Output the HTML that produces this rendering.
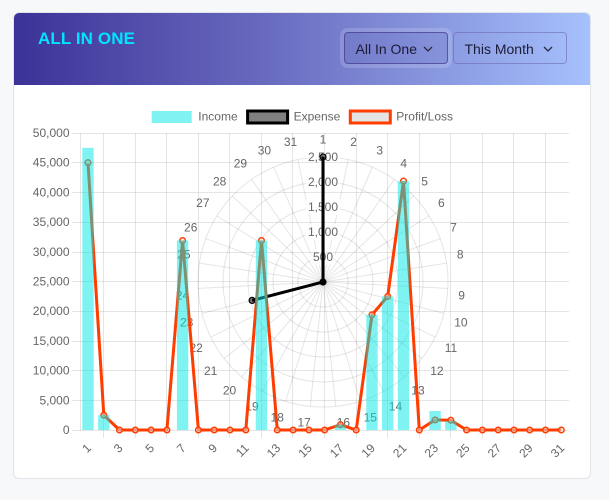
<!DOCTYPE html>
<html>
<head>
<meta charset="utf-8">
<style>
  html,body{margin:0;padding:0;}
  body{width:609px;height:500px;background:#f7f8fa;position:relative;overflow:hidden;font-family:"Liberation Sans",Arial,sans-serif;}
  .card{position:absolute;left:13px;top:12px;width:576px;height:465px;background:#fff;border:1px solid #e1e4e8;border-radius:6px;overflow:hidden;}
  .hdr{position:absolute;left:0;top:0;width:576px;height:72px;background:linear-gradient(90deg,#3c3297 0%,#6a6cc0 45%,#a6c1fd 100%);}
  .title{position:absolute;left:38px;top:29px;font-size:17px;line-height:20px;font-weight:bold;color:#00e5ff;letter-spacing:0.1px;}
  .btn{position:absolute;top:32px;height:30px;border-radius:4px;font-size:14px;line-height:30px;color:#1c1c38;box-sizing:content-box;}
  .b1{left:344px;width:102px;border:1px solid rgba(62,52,130,0.65);background:rgba(60,50,140,0.06);box-shadow:0 0 0 4px rgba(255,255,255,0.16);}
  .b2{left:453px;width:112px;border:1px solid rgba(110,100,170,0.55);}
  .btn span{position:absolute;left:10.5px;top:1px;}
  .btn svg{position:absolute;top:13px;}
  svg.chart{position:absolute;left:0;top:0;}
</style>
</head>
<body>
<div class="card">
  <div class="hdr"></div>
</div>
<div class="title">ALL IN ONE</div>
<div class="btn b1"><span>All In One</span><svg width="10" height="6" style="left:78px"><polyline points="1,1 5,5 9,1" fill="none" stroke="#2a2a40" stroke-width="1.3"/></svg></div>
<div class="btn b2"><span>This Month</span><svg width="10" height="6" style="left:89px"><polyline points="1,1 5,5 9,1" fill="none" stroke="#2a2a40" stroke-width="1.3"/></svg></div>

<svg class="chart" width="609" height="500" viewBox="0 0 609 500" xmlns="http://www.w3.org/2000/svg" font-family="Liberation Sans, Arial, sans-serif">
  <!-- Radar grid -->
  <g fill="none" stroke="rgba(0,0,0,0.1)" stroke-width="1">
    <circle cx="323" cy="282" r="25"/>
    <circle cx="323" cy="282" r="50"/>
    <circle cx="323" cy="282" r="75"/>
    <circle cx="323" cy="282" r="100"/>
    <circle cx="323" cy="282" r="125"/>
  </g>
  <g stroke="rgba(0,0,0,0.1)" stroke-width="1">
    <line x1="323" y1="282" x2="323" y2="157" transform="rotate(0 323 282)"/>
    <line x1="323" y1="282" x2="323" y2="157" transform="rotate(11.613 323 282)"/>
    <line x1="323" y1="282" x2="323" y2="157" transform="rotate(23.226 323 282)"/>
    <line x1="323" y1="282" x2="323" y2="157" transform="rotate(34.839 323 282)"/>
    <line x1="323" y1="282" x2="323" y2="157" transform="rotate(46.452 323 282)"/>
    <line x1="323" y1="282" x2="323" y2="157" transform="rotate(58.065 323 282)"/>
    <line x1="323" y1="282" x2="323" y2="157" transform="rotate(69.677 323 282)"/>
    <line x1="323" y1="282" x2="323" y2="157" transform="rotate(81.290 323 282)"/>
    <line x1="323" y1="282" x2="323" y2="157" transform="rotate(92.903 323 282)"/>
    <line x1="323" y1="282" x2="323" y2="157" transform="rotate(104.516 323 282)"/>
    <line x1="323" y1="282" x2="323" y2="157" transform="rotate(116.129 323 282)"/>
    <line x1="323" y1="282" x2="323" y2="157" transform="rotate(127.742 323 282)"/>
    <line x1="323" y1="282" x2="323" y2="157" transform="rotate(139.355 323 282)"/>
    <line x1="323" y1="282" x2="323" y2="157" transform="rotate(150.968 323 282)"/>
    <line x1="323" y1="282" x2="323" y2="157" transform="rotate(162.581 323 282)"/>
    <line x1="323" y1="282" x2="323" y2="157" transform="rotate(174.194 323 282)"/>
    <line x1="323" y1="282" x2="323" y2="157" transform="rotate(185.806 323 282)"/>
    <line x1="323" y1="282" x2="323" y2="157" transform="rotate(197.419 323 282)"/>
    <line x1="323" y1="282" x2="323" y2="157" transform="rotate(209.032 323 282)"/>
    <line x1="323" y1="282" x2="323" y2="157" transform="rotate(220.645 323 282)"/>
    <line x1="323" y1="282" x2="323" y2="157" transform="rotate(232.258 323 282)"/>
    <line x1="323" y1="282" x2="323" y2="157" transform="rotate(243.871 323 282)"/>
    <line x1="323" y1="282" x2="323" y2="157" transform="rotate(255.484 323 282)"/>
    <line x1="323" y1="282" x2="323" y2="157" transform="rotate(267.097 323 282)"/>
    <line x1="323" y1="282" x2="323" y2="157" transform="rotate(278.710 323 282)"/>
    <line x1="323" y1="282" x2="323" y2="157" transform="rotate(290.323 323 282)"/>
    <line x1="323" y1="282" x2="323" y2="157" transform="rotate(301.935 323 282)"/>
    <line x1="323" y1="282" x2="323" y2="157" transform="rotate(313.548 323 282)"/>
    <line x1="323" y1="282" x2="323" y2="157" transform="rotate(325.161 323 282)"/>
    <line x1="323" y1="282" x2="323" y2="157" transform="rotate(336.774 323 282)"/>
    <line x1="323" y1="282" x2="323" y2="157" transform="rotate(348.387 323 282)"/>
  </g>
  <!-- Radar point labels -->
  <g font-size="12" fill="#666" dominant-baseline="central">
    <text x="323" y="139.3" text-anchor="middle">1</text>
    <text x="350.3" y="142.1">2</text>
    <text x="376.4" y="150.3">3</text>
    <text x="400.4" y="163.6">4</text>
    <text x="421.2" y="181.4">5</text>
    <text x="438.0" y="203.1">6</text>
    <text x="450.1" y="227.7">7</text>
    <text x="456.9" y="254.3">8</text>
    <text x="458.3" y="295.3">9</text>
    <text x="454.2" y="322.3">10</text>
    <text x="444.7" y="347.8">11</text>
    <text x="430.2" y="370.8">12</text>
    <text x="411.3" y="390.6">13</text>
    <text x="388.8" y="406.3">14</text>
    <text x="363.6" y="417.3">15</text>
    <text x="336.7" y="422.5">16</text>
    <text x="310.8" y="422.5" text-anchor="end">17</text>
    <text x="283.9" y="417.3" text-anchor="end">18</text>
    <text x="258.7" y="406.3" text-anchor="end">19</text>
    <text x="236.2" y="390.6" text-anchor="end">20</text>
    <text x="217.3" y="370.8" text-anchor="end">21</text>
    <text x="202.8" y="347.8" text-anchor="end">22</text>
    <text x="193.3" y="322.3" text-anchor="end">23</text>
    <text x="189.2" y="295.3" text-anchor="end">24</text>
    <text x="190.6" y="254.3" text-anchor="end">25</text>
    <text x="197.4" y="227.7" text-anchor="end">26</text>
    <text x="209.5" y="203.1" text-anchor="end">27</text>
    <text x="226.3" y="181.4" text-anchor="end">28</text>
    <text x="247.1" y="163.6" text-anchor="end">29</text>
    <text x="271.1" y="150.3" text-anchor="end">30</text>
    <text x="297.2" y="142.1" text-anchor="end">31</text>
  </g>
  <!-- Radar tick backdrops + labels -->
  <g fill="rgba(255,255,255,0.75)">
    <rect x="311" y="249" width="24" height="16"/>
    <rect x="306" y="224" width="34" height="16"/>
    <rect x="306" y="199" width="34" height="16"/>
    <rect x="306" y="174" width="34" height="16"/>
    <rect x="306" y="149" width="34" height="16"/>
  </g>
  <g font-size="12" fill="#666" text-anchor="middle" dominant-baseline="central">
    <text x="323" y="257">500</text>
    <text x="323" y="232">1,000</text>
    <text x="323" y="207">1,500</text>
    <text x="323" y="182">2,000</text>
    <text x="323" y="157">2,500</text>
  </g>
  <!-- Radar dataset (Expense) -->
  <path d="M323,157 L323,282 L252.1,300.4 L323,282 Z" fill="rgba(0,0,0,0.5)" stroke="#000" stroke-width="3" stroke-linejoin="miter"/>
  <g fill="rgba(0,0,0,0.5)" stroke="#000" stroke-width="1.2">
    <circle cx="323" cy="157" r="3"/>
    <circle cx="252.1" cy="300.4" r="3"/>
  </g>
  <circle cx="323" cy="282" r="3.6" fill="#000"/>

  <!-- Cartesian grid -->
  <g stroke="rgba(0,0,0,0.1)" stroke-width="1">
    <line x1="72" y1="430.5" x2="569" y2="430.5"/>
    <line x1="72" y1="400.5" x2="569" y2="400.5"/>
    <line x1="72" y1="370.5" x2="569" y2="370.5"/>
    <line x1="72" y1="341.5" x2="569" y2="341.5"/>
    <line x1="72" y1="311.5" x2="569" y2="311.5"/>
    <line x1="72" y1="281.5" x2="569" y2="281.5"/>
    <line x1="72" y1="252.5" x2="569" y2="252.5"/>
    <line x1="72" y1="222.5" x2="569" y2="222.5"/>
    <line x1="72" y1="192.5" x2="569" y2="192.5"/>
    <line x1="72" y1="162.5" x2="569" y2="162.5"/>
    <line x1="72" y1="133.5" x2="569" y2="133.5"/>
    <line x1="80.5" y1="133" x2="80.5" y2="431"/>
    <line x1="103.5" y1="133" x2="103.5" y2="438"/>
    <line x1="135.5" y1="133" x2="135.5" y2="438"/>
    <line x1="166.5" y1="133" x2="166.5" y2="438"/>
    <line x1="198.5" y1="133" x2="198.5" y2="438"/>
    <line x1="229.5" y1="133" x2="229.5" y2="438"/>
    <line x1="261.5" y1="133" x2="261.5" y2="438"/>
    <line x1="292.5" y1="133" x2="292.5" y2="438"/>
    <line x1="324.5" y1="133" x2="324.5" y2="438"/>
    <line x1="356.5" y1="133" x2="356.5" y2="438"/>
    <line x1="387.5" y1="133" x2="387.5" y2="438"/>
    <line x1="419.5" y1="133" x2="419.5" y2="438"/>
    <line x1="450.5" y1="133" x2="450.5" y2="438"/>
    <line x1="482.5" y1="133" x2="482.5" y2="438"/>
    <line x1="513.5" y1="133" x2="513.5" y2="438"/>
    <line x1="545.5" y1="133" x2="545.5" y2="438"/>
  </g>
  <!-- Y labels -->
  <g font-size="12" fill="#666" text-anchor="end" dominant-baseline="central">
    <text x="69.5" y="430">0</text>
    <text x="69.5" y="400.3">5,000</text>
    <text x="69.5" y="370.6">10,000</text>
    <text x="69.5" y="340.9">15,000</text>
    <text x="69.5" y="311.2">20,000</text>
    <text x="69.5" y="281.5">25,000</text>
    <text x="69.5" y="251.8">30,000</text>
    <text x="69.5" y="222.1">35,000</text>
    <text x="69.5" y="192.4">40,000</text>
    <text x="69.5" y="162.7">45,000</text>
    <text x="69.5" y="133">50,000</text>
  </g>
  <!-- X labels -->
  <g font-size="12" fill="#666" text-anchor="end" dominant-baseline="central">
    <text transform="translate(89,446) rotate(-45)">1</text>
    <text transform="translate(120.5,446) rotate(-45)">3</text>
    <text transform="translate(152.1,446) rotate(-45)">5</text>
    <text transform="translate(183.6,446) rotate(-45)">7</text>
    <text transform="translate(215.2,446) rotate(-45)">9</text>
    <text transform="translate(246.8,446) rotate(-45)">11</text>
    <text transform="translate(278.3,446) rotate(-45)">13</text>
    <text transform="translate(309.9,446) rotate(-45)">15</text>
    <text transform="translate(341.4,446) rotate(-45)">17</text>
    <text transform="translate(373,446) rotate(-45)">19</text>
    <text transform="translate(404.5,446) rotate(-45)">21</text>
    <text transform="translate(436.1,446) rotate(-45)">23</text>
    <text transform="translate(467.6,446) rotate(-45)">25</text>
    <text transform="translate(499.2,446) rotate(-45)">27</text>
    <text transform="translate(530.7,446) rotate(-45)">29</text>
    <text transform="translate(562.3,446) rotate(-45)">31</text>
  </g>

  <!-- Legend -->
  <rect x="151.7" y="111" width="40" height="12" fill="rgba(0,230,230,0.5)"/>
  <rect x="247.6" y="111" width="40" height="12" fill="#808080" stroke="#000" stroke-width="3"/>
  <rect x="350.3" y="111" width="40" height="12" fill="#e4e4e4" stroke="#ff3d00" stroke-width="3"/>
  <g font-size="12" fill="#666" dominant-baseline="central">
    <text x="198.3" y="116.5">Income</text>
    <text x="293.6" y="116.5">Expense</text>
    <text x="396.3" y="116.5">Profit/Loss</text>
  </g>

  <!-- Profit/Loss line -->
  <path d="M88,162.7 L103.8,415.15 L119.5,430 L135.3,430 L151.1,430 L166.9,430 L182.6,240.5 L198.4,430 L214.2,430 L230,430 L245.8,430 L261.5,240.5 L277.3,430 L293.1,430 L308.9,430 L324.6,430 L340.4,424.7 L356.2,430 L372,314.8 L387.7,296.35 L403.5,181.1 L419.3,430 L435.1,419.9 L450.8,420.2 L466.6,430 L482.4,430 L498.2,430 L514,430 L529.7,430 L545.5,430 L561.3,430" fill="none" stroke="#ff3d00" stroke-width="3" stroke-linejoin="miter" stroke-miterlimit="10"/>
  <g fill="rgba(230,230,230,0.5)" stroke="#ff3d00" stroke-width="1.5">
    <circle cx="88" cy="162.7" r="2.8"/>
    <circle cx="103.8" cy="415.15" r="2.8"/>
    <circle cx="119.5" cy="430" r="2.8"/>
    <circle cx="135.3" cy="430" r="2.8"/>
    <circle cx="151.1" cy="430" r="2.8"/>
    <circle cx="166.9" cy="430" r="2.8"/>
    <circle cx="182.6" cy="240.5" r="2.8"/>
    <circle cx="198.4" cy="430" r="2.8"/>
    <circle cx="214.2" cy="430" r="2.8"/>
    <circle cx="230" cy="430" r="2.8"/>
    <circle cx="245.8" cy="430" r="2.8"/>
    <circle cx="261.5" cy="240.5" r="2.8"/>
    <circle cx="277.3" cy="430" r="2.8"/>
    <circle cx="293.1" cy="430" r="2.8"/>
    <circle cx="308.9" cy="430" r="2.8"/>
    <circle cx="324.6" cy="430" r="2.8"/>
    <circle cx="340.4" cy="424.7" r="2.8"/>
    <circle cx="356.2" cy="430" r="2.8"/>
    <circle cx="372" cy="314.8" r="2.8"/>
    <circle cx="387.7" cy="296.35" r="2.8"/>
    <circle cx="403.5" cy="181.1" r="2.8"/>
    <circle cx="419.3" cy="430" r="2.8"/>
    <circle cx="435.1" cy="419.9" r="2.8"/>
    <circle cx="450.8" cy="420.2" r="2.8"/>
    <circle cx="466.6" cy="430" r="2.8"/>
    <circle cx="482.4" cy="430" r="2.8"/>
    <circle cx="498.2" cy="430" r="2.8"/>
    <circle cx="514" cy="430" r="2.8"/>
    <circle cx="529.7" cy="430" r="2.8"/>
    <circle cx="545.5" cy="430" r="2.8"/>
    <circle cx="561.3" cy="430" r="2.8"/>
  </g>

  <!-- Income bars (on top) -->
  <g fill="rgba(0,230,230,0.5)">
    <rect x="82.3" y="147.85" width="11.35" height="282.15"/>
    <rect x="98.1" y="415.15" width="11.35" height="14.85"/>
    <rect x="176.9" y="240.5" width="11.35" height="189.5"/>
    <rect x="255.8" y="240.5" width="11.35" height="189.5"/>
    <rect x="334.7" y="424.7" width="11.35" height="5.3"/>
    <rect x="366.3" y="314.8" width="11.35" height="115.2"/>
    <rect x="382.0" y="296.35" width="11.35" height="133.65"/>
    <rect x="397.8" y="181.1" width="11.35" height="248.9"/>
    <rect x="429.4" y="411.0" width="11.35" height="19"/>
    <rect x="445.1" y="421.1" width="11.35" height="8.9"/>
  </g>
</svg>
</body>
</html>
